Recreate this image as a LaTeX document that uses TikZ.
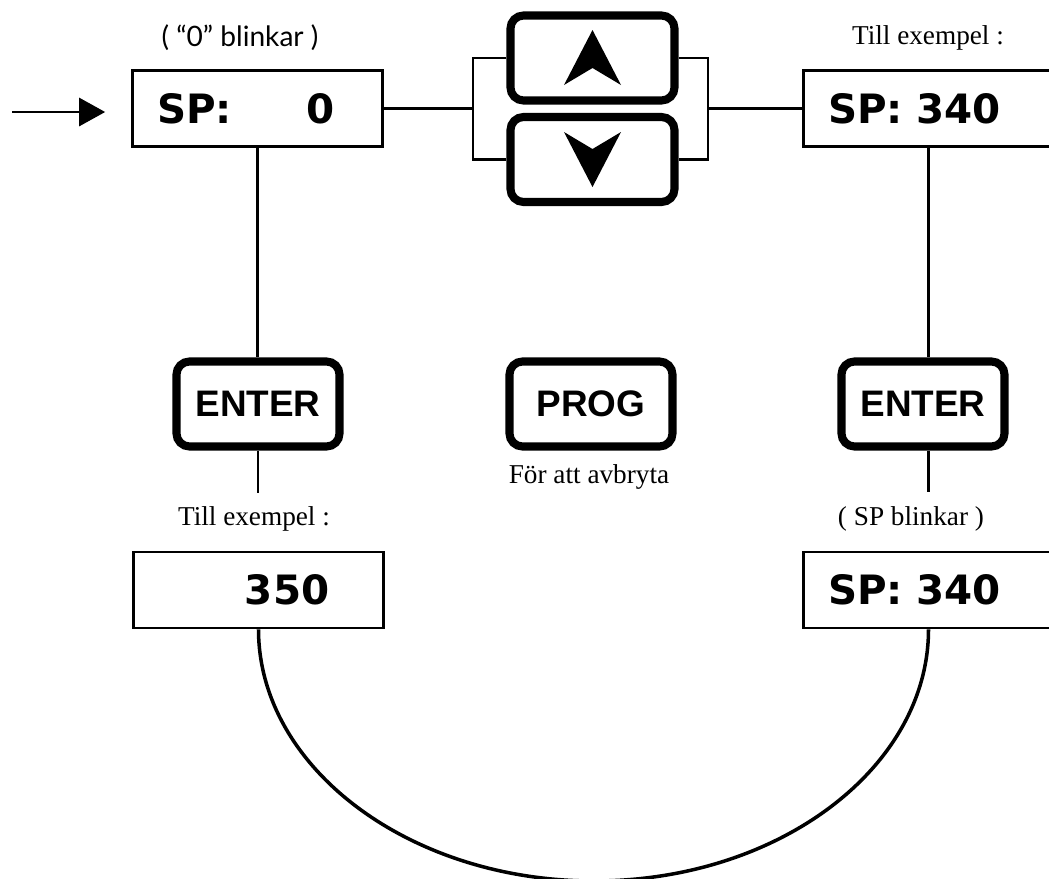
\documentclass[tikz,border=0pt]{standalone}
\usepackage{fontspec}
\usepackage{tikz}
\usetikzlibrary{arrows.meta}
\setmainfont{Liberation Serif}
\newfontfamily\lcdfont{DejaVu Sans}
\newfontfamily\keyfont{Liberation Sans}
\newfontfamily\notefont{Lato}

\begin{document}
\begin{tikzpicture}[x=0.2mm, y=-0.2mm, line width=1.5pt]%
  \tikzset{normal arrow/.style={draw,-{Triangle[length=5.2mm,width=5.6mm]},line width=1.6pt,black}}
  \tikzset{display/.style={draw, rectangle, line width=1.5pt, minimum width=50mm, minimum height=15.2mm,
      text width=40.2mm, inner xsep=4.9mm, inner ysep=0pt, align=left, font=\lcdfont\bfseries\fontsize{23}{26}\selectfont}}
  \tikzset{key/.style={draw, rectangle, rounded corners=2.6mm, line width=4.6pt, minimum width=32.6mm, minimum height=17mm,
      inner sep=0pt, font=\keyfont\bfseries\fontsize{21}{24}\selectfont}}
  \tikzset{serifnote/.style={font=\fontsize{15.5}{18}\selectfont, inner sep=0pt}}

  \useasboundingbox (0,0) rectangle (1049,878);
  \clip (0,0) rectangle (1049,878);

  % displays
  \node[display] at (257.5,108.5) (SP0) {SP:\hspace{1.85em}0};
  \node[display] at (928.5,108.5) (SP340) {SP: 340};
  \node[display] at (258.5,590) (V350) {\hspace*{2.15em}350};
  \node[display] at (928.5,590) (SPB) {SP: 340};

  % keys
  \node[key, minimum width=32.8mm] at (592.5,58) (UP) {};
  \node[key, minimum width=32.8mm] at (592.5,159.5) (DOWN) {};
  \node[key] at (258,404) (ENTER1) {ENTER};
  \node[key] at (591,404) (PROG) {PROG};
  \node[key] at (923,404) (ENTER2) {ENTER};
  \fill ([shift={(UP)}] 0,-28) -- ([shift={(UP)}] 28.5,27) -- ([shift={(UP)}] 0,10) -- ([shift={(UP)}] -28.5,27) -- cycle;
  \fill ([shift={(DOWN)}] 0,27.5) -- ([shift={(DOWN)}] 28.5,-27.5) -- ([shift={(DOWN)}] 0,-10.5) -- ([shift={(DOWN)}] -28.5,-27.5) -- cycle;

  % labels
  \node[font=\notefont\fontsize{16}{19}\selectfont, inner sep=0pt] at (240,38) (blink0) {( “0” blinkar )};
  \node[serifnote] at (928,38) (ex1) {Till exempel :};
  \node[serifnote] at (254,519) (ex2) {Till exempel :};
  \node[serifnote] at (911,519) (blinkSP) {( SP blinkar )};
  \node[serifnote] at (589,477) (cancel) {För att avbryta};

  \coordinate (start) at (12,112);
  \coordinate (bl) at (473,108.5);
  \coordinate (br) at (708,108.5);
  \coordinate (E1end) at (258,493);
  \coordinate (E2end) at (928.5,492);
  \coordinate (bot) at (594,881);

  \path[normal arrow, shorten >=5.2mm] (start) -- (start -| SP0.west);
  \path[draw] (SP0) -- (bl);
  \path[draw] (UP.west) -| (bl) |- (DOWN.west);
  \path[draw] (UP.east) -| (br) |- (DOWN.east);
  \path[draw] (br) -- (SP340);
  \path[draw] (SP0.south) -- (SP0.south |- ENTER1.north);
  \path[draw] (ENTER1.south) -- (E1end);
  \path[draw] (SP340.south) -- (SP340.south |- ENTER2.north);
  \path[draw] (ENTER2.south -| SP340.south) -- (E2end);
  \path[draw, line width=2pt] (V350.south) .. controls +(0,138) and +(-185,0) .. (bot) .. controls +(185,0) and +(0,138) .. (SPB.south);
\end{tikzpicture}
\end{document}
